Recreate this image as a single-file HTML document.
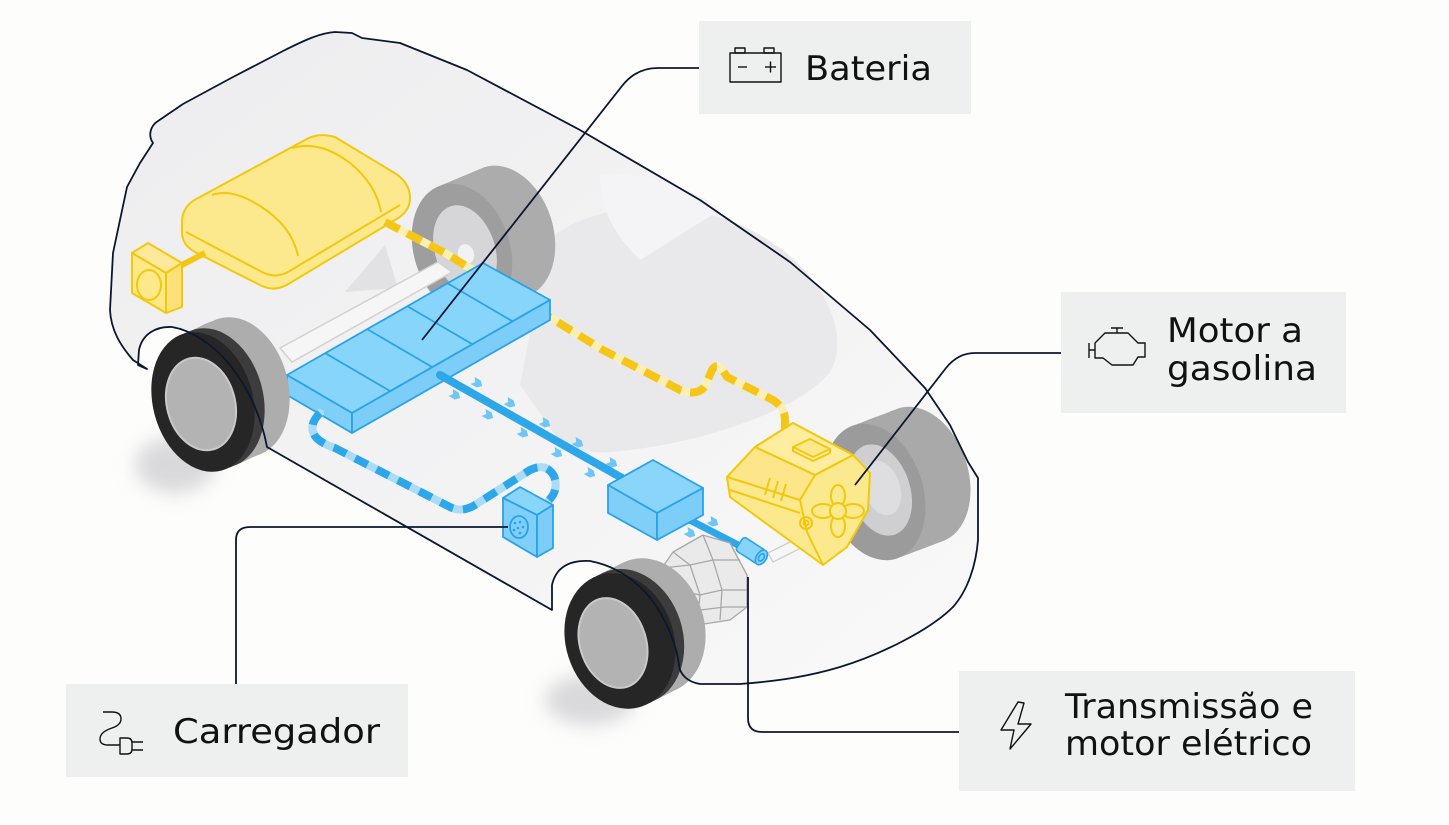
<!DOCTYPE html>
<html><head><meta charset="utf-8"><style>
html,body{margin:0;padding:0;background:#fdfdfc;}
svg{display:block;}
</style></head><body>
<svg width="1449" height="825" viewBox="0 0 1449 825" xmlns="http://www.w3.org/2000/svg">
<defs>
<linearGradient id="bodyg" x1="0" y1="0" x2="1" y2="1">
<stop offset="0" stop-color="#ededef"/><stop offset="0.55" stop-color="#f3f3f4"/><stop offset="1" stop-color="#f9f9f9"/>
</linearGradient>
<filter id="blur" x="-50%" y="-50%" width="200%" height="200%"><feGaussianBlur stdDeviation="9"/></filter>
</defs>
<rect width="1449" height="825" fill="#fdfdfc"/>

<ellipse cx="175" cy="465" rx="40" ry="28" fill="#d9d9db" filter="url(#blur)"/>
<ellipse cx="590" cy="700" rx="45" ry="25" fill="#d9d9db" filter="url(#blur)"/>

<path d="M153,143 C148,136 150,126 158,121 L183,104 L233,77 L283,51 C305,40 320,33 335,32 L352,33 L362,38 L400,43 L467,70 L580,130 L700,200 L790,262 L870,330 L925,388 L950,425 L968,462 L978,478 L978,540 C976,565 968,590 953,607 C930,630 880,655 840,667 C810,676 780,681 740,684 L700,684 C688,682 680,675 679,665 C676,640 660,605 640,587 C625,573 610,565 590,561 C570,560 556,567 552,585 L552,610 L267,447 C262,420 250,390 230,365 C212,343 190,330 172,327 C155,326 142,335 139,350 L138,365 L147,369 L133,360 C120,345 111,330 110,310 L113,253 L127,187 L140,163 Z" fill="url(#bodyg)"/>

<path d="M548,240 C590,205 680,190 760,235 C830,275 850,340 830,372 C800,410 700,445 610,452 C575,455 555,440 545,420 L520,385 Z" fill="#e9e9eb"/>
<path d="M600,175 C640,170 690,185 720,210 L640,260 C620,240 600,215 600,175 Z" fill="#f4f4f6"/>
<polygon points="345,292 385,245 398,288" fill="#e2e2e4"/>

<g fill="#acacac">
<ellipse transform="translate(505,232) rotate(-18)" rx="48" ry="68"/>
<ellipse transform="translate(499.6,234.3) rotate(-18)" rx="48" ry="68"/>
<ellipse transform="translate(494.3,236.5) rotate(-18)" rx="48" ry="68"/>
<ellipse transform="translate(488.9,238.8) rotate(-18)" rx="48" ry="68"/>
<ellipse transform="translate(483.5,241) rotate(-18)" rx="48" ry="68"/>
<ellipse transform="translate(478.1,243.3) rotate(-18)" rx="48" ry="68"/>
<ellipse transform="translate(472.8,245.5) rotate(-18)" rx="48" ry="68"/>
<ellipse transform="translate(467.4,247.8) rotate(-18)" rx="48" ry="68"/>
</g>
<ellipse transform="translate(462,250) rotate(-18)" rx="48" ry="68" fill="#9e9e9e"/>
<ellipse transform="translate(465,250) rotate(-18)" rx="30" ry="46" fill="#d6d6d8"/>
<ellipse transform="translate(466,254) rotate(-18)" rx="8" ry="10" fill="#f2f2f2"/>

<g fill="#a9a9a9">
<ellipse transform="translate(920,475) rotate(-18)" rx="48" ry="70"/>
<ellipse transform="translate(914.4,477.1) rotate(-18)" rx="48" ry="70"/>
<ellipse transform="translate(908.8,479.3) rotate(-18)" rx="48" ry="70"/>
<ellipse transform="translate(903.1,481.4) rotate(-18)" rx="48" ry="70"/>
<ellipse transform="translate(897.5,483.5) rotate(-18)" rx="48" ry="70"/>
<ellipse transform="translate(891.9,485.6) rotate(-18)" rx="48" ry="70"/>
<ellipse transform="translate(886.3,487.8) rotate(-18)" rx="48" ry="70"/>
<ellipse transform="translate(880.6,489.9) rotate(-18)" rx="48" ry="70"/>
</g>
<ellipse transform="translate(875,492) rotate(-18)" rx="48" ry="70" fill="#9b9b9b"/>
<ellipse transform="translate(880,490) rotate(-18)" rx="30" ry="47" fill="#cfcfd1"/>
<ellipse transform="translate(882,488) rotate(-18)" rx="18" ry="28" fill="#dedee0"/>

<polygon points="280,348 438,262 452,272 292,362" fill="#f6f6f6" stroke="#d2d2d2" stroke-width="1.5"/>
<polygon points="768,553 800,537 805,546 773,562" fill="#f6f6f6" stroke="#cfcfcf" stroke-width="1.3"/>

<g stroke="#f2c80f" stroke-width="2" stroke-linejoin="round" fill="#fde98d">
<path d="M182,222 Q182,205 200,197 L305,140 Q318,132 335,137 L393,172 Q410,182 410,198 Q410,212 395,220 L290,283 Q275,293 260,285 L195,252 Q182,245 182,232 Z"/>
<path d="M186,232 L262,272 Q275,279 288,272 L400,205" fill="none"/>
<path d="M212,195 Q232,188 260,206 Q292,226 298,256" fill="none"/>
<path d="M292,148 Q320,140 350,163 Q376,184 381,212" fill="none"/>
</g>
<line x1="180" y1="266" x2="205" y2="253" stroke="#f5c518" stroke-width="6"/>
<g stroke="#f2c80f" stroke-width="2" stroke-linejoin="round">
<polygon points="132,253 148,243 182,263 166,273" fill="#fee99a"/>
<polygon points="132,253 166,273 166,313 132,293" fill="#fde88a"/>
<polygon points="166,273 182,263 182,307 166,313" fill="#fce17a"/>
<ellipse cx="149" cy="285" rx="12" ry="15" fill="none"/>
</g>

<path d="M385,222 L445,253 L603,350 L680,390 Q700,397 706,384 L712,370 Q716,363 722,369 L727,377 L773,400 Q785,408 785,420 L785,442" fill="none" stroke="#fcefb2" stroke-width="8" stroke-linejoin="round"/>
<path d="M385,222 L445,253 L603,350 L680,390 Q700,397 706,384 L712,370 Q716,363 722,369 L727,377 L773,400 Q785,408 785,420 L785,442" fill="none" stroke="#f5c518" stroke-width="8" stroke-dasharray="16 9" stroke-linejoin="round"/>

<g stroke="#29a3e6" stroke-width="1.8" stroke-linejoin="round">
<polygon points="287,375 483,263 550,300 352,413" fill="#88d5fb"/>
<polygon points="287,375 352,413 352,433 287,395" fill="#7fcff8"/>
<polygon points="352,413 550,300 550,320 352,433" fill="#7ccdf7"/>
<line x1="325" y1="353" x2="390" y2="391"/>
<line x1="367" y1="329" x2="432" y2="367"/>
<line x1="407" y1="306" x2="472" y2="344"/>
<line x1="447" y1="283" x2="512" y2="321"/>
</g>

<path d="M320,413 Q308,425 315,436 Q320,443 335,448 L450,507 Q462,513 475,505 L530,470 Q546,462 554,476 Q559,490 549,500" fill="none" stroke="#aadcf7" stroke-width="8" stroke-linecap="round" stroke-linejoin="round"/>
<path d="M320,413 Q308,425 315,436 Q320,443 335,448 L450,507 Q462,513 475,505 L530,470 Q546,462 554,476 Q559,490 549,500" fill="none" stroke="#2ea7ea" stroke-width="8" stroke-dasharray="14 10" stroke-linejoin="round"/>

<line x1="440" y1="375" x2="622" y2="478" stroke="#2ea7ea" stroke-width="8" stroke-linecap="round"/>
<line x1="680" y1="515" x2="742" y2="547" stroke="#2ea7ea" stroke-width="7" stroke-linecap="round"/>
<g fill="#6ec6f6">
<polygon transform="translate(477,383) rotate(29.5)" points="-5,-4 2,-4 6,0 2,4 -5,4 -2,0"/>
<polygon transform="translate(510,403) rotate(29.5)" points="-5,-4 2,-4 6,0 2,4 -5,4 -2,0"/>
<polygon transform="translate(545,423) rotate(29.5)" points="-5,-4 2,-4 6,0 2,4 -5,4 -2,0"/>
<polygon transform="translate(578,443) rotate(29.5)" points="-5,-4 2,-4 6,0 2,4 -5,4 -2,0"/>
<polygon transform="translate(612,463) rotate(29.5)" points="-5,-4 2,-4 6,0 2,4 -5,4 -2,0"/>
<polygon transform="translate(455,395) rotate(29.5)" points="-5,-4 2,-4 6,0 2,4 -5,4 -2,0"/>
<polygon transform="translate(488,415) rotate(29.5)" points="-5,-4 2,-4 6,0 2,4 -5,4 -2,0"/>
<polygon transform="translate(523,433) rotate(29.5)" points="-5,-4 2,-4 6,0 2,4 -5,4 -2,0"/>
<polygon transform="translate(557,453) rotate(29.5)" points="-5,-4 2,-4 6,0 2,4 -5,4 -2,0"/>
<polygon transform="translate(590,473) rotate(29.5)" points="-5,-4 2,-4 6,0 2,4 -5,4 -2,0"/>
<polygon transform="translate(713,522) rotate(29.5)" points="-5,-4 2,-4 6,0 2,4 -5,4 -2,0"/>
<polygon transform="translate(690,533) rotate(29.5)" points="-5,-4 2,-4 6,0 2,4 -5,4 -2,0"/>
</g>

<g stroke="#f2c80f" stroke-width="2" stroke-linejoin="round">
<polygon points="727,477 755,447 793,423 853,455 870,473 868,510 847,547 823,565 730,497" fill="#fde98d"/>
<polygon points="755,447 793,423 853,455 815,475" fill="#feed9f"/>
<polygon points="755,447 815,475 800,500 727,477" fill="#fde68a"/>
<polyline points="815,475 853,455" fill="none"/>
<polyline points="800,500 807,532 823,565" fill="none"/>
<polyline points="730,490 800,513" fill="none"/>
<polygon points="793,447 810,439 830,449 813,457" fill="#fde98d"/>
<polyline points="793,447 793,451 813,461 830,453 830,449" fill="none"/>
<line x1="770" y1="478" x2="765" y2="495" /><line x1="778" y1="481" x2="773" y2="498"/><line x1="786" y1="484" x2="781" y2="501"/>
<circle cx="806" cy="523" r="6" fill="none"/><circle cx="806" cy="523" r="2.5" fill="none"/>
<ellipse cx="838" cy="496" rx="7" ry="11" fill="#fde98d"/>
<ellipse cx="838" cy="526" rx="7" ry="11" fill="#fde98d"/>
<ellipse cx="823" cy="511" rx="11" ry="7" fill="#fde98d"/>
<ellipse cx="853" cy="511" rx="11" ry="7" fill="#fde98d"/>
<circle cx="838" cy="511" r="8" fill="#fde98d"/>
</g>

<g stroke="#a8a8a8" stroke-width="1.3" fill="none" stroke-linejoin="round">
<polygon points="662,568 673,552 703,535 730,543 747,575 747,607 730,620 697,625 677,603" fill="#eaeaea"/>
<polyline points="703,535 713,560 722,590 720,620"/>
<polyline points="673,552 690,565 700,595 697,625"/>
<polyline points="730,543 740,562 747,575"/>
<polyline points="662,568 690,565 713,560 740,560"/>
<polyline points="668,588 700,595 722,590 747,590"/>
<polyline points="677,603 700,610 725,607 747,607"/>
</g>

<g transform="translate(753,552) rotate(33)" stroke="#29a3e6" stroke-width="1.6">
<rect x="-16" y="-8" width="26" height="16" rx="3" fill="#86d4fb"/>
<ellipse cx="10" cy="0" rx="5" ry="8" fill="#86d4fb"/>
<ellipse cx="10" cy="0" rx="2.5" ry="4" fill="none"/>
</g>

<g stroke="#29a3e6" stroke-width="1.8" stroke-linejoin="round">
<polygon points="608,485 653,460 703,488 657,513" fill="#8ad6fb"/>
<polygon points="608,485 657,513 657,540 608,513" fill="#7fcff8"/>
<polygon points="657,513 703,488 703,515 657,540" fill="#7ccdf7"/>
</g>

<g stroke="#29a3e6" stroke-width="1.8" stroke-linejoin="round">
<polygon points="503,498 520,487 553,505 537,515" fill="#8ad6fb"/>
<polygon points="503,498 537,515 537,557 503,537" fill="#7fcff8"/>
<polygon points="537,515 553,505 553,548 537,557" fill="#7ccdf7"/>
<ellipse cx="519" cy="527" rx="9" ry="11" fill="none"/>
</g>
<g fill="#29a3e6"><circle cx="515" cy="523" r="1.3"/><circle cx="520" cy="522" r="1.3"/><circle cx="523" cy="527" r="1.3"/><circle cx="518" cy="528" r="1.3"/><circle cx="514" cy="530" r="1.3"/><circle cx="520" cy="533" r="1.3"/></g>

<g fill="#adadad">
<ellipse transform="translate(238,387) rotate(-15)" rx="50" ry="71"/>
<ellipse transform="translate(233,389) rotate(-15)" rx="50" ry="71"/>
<ellipse transform="translate(228,391) rotate(-15)" rx="50" ry="71"/>
<ellipse transform="translate(223,393.5) rotate(-15)" rx="50" ry="71"/>
<ellipse transform="translate(218,396) rotate(-15)" rx="50" ry="71"/>
</g>
<g fill="#3c3c3c">
<ellipse transform="translate(213,398) rotate(-15)" rx="50" ry="71"/>
<ellipse transform="translate(208,400) rotate(-15)" rx="50" ry="71"/>
</g>
<ellipse transform="translate(203,402) rotate(-15)" rx="50" ry="71" fill="#262626"/>
<ellipse transform="translate(201,404) rotate(-15)" rx="34" ry="47" fill="#b3b3b3" stroke="#c9c9cc" stroke-width="2"/>

<g fill="#adadad">
<ellipse transform="translate(650,626) rotate(-18)" rx="54" ry="69"/>
<ellipse transform="translate(645.7,628) rotate(-18)" rx="54" ry="69"/>
<ellipse transform="translate(641.4,630.3) rotate(-18)" rx="54" ry="69"/>
<ellipse transform="translate(637.1,632.4) rotate(-18)" rx="54" ry="69"/>
<ellipse transform="translate(632.9,634.6) rotate(-18)" rx="54" ry="69"/>
</g>
<g fill="#3c3c3c">
<ellipse transform="translate(628.6,636.7) rotate(-18)" rx="54" ry="69"/>
<ellipse transform="translate(624.3,638.9) rotate(-18)" rx="54" ry="69"/>
</g>
<ellipse transform="translate(620,641) rotate(-18)" rx="54" ry="69" fill="#262626"/>
<ellipse transform="translate(613,643) rotate(-18)" rx="33" ry="46" fill="#b3b3b3" stroke="#c9c9cc" stroke-width="2"/>

<path d="M153,143 C148,136 150,126 158,121 L183,104 L233,77 L283,51 C305,40 320,33 335,32 L352,33 L362,38 L400,43 L467,70 L580,130 L700,200 L790,262 L870,330 L925,388 L950,425 L968,462 L978,478 L978,540 C976,565 968,590 953,607 C930,630 880,655 840,667 C810,676 780,681 740,684 L700,684 C688,682 680,675 679,665 C676,640 660,605 640,587 C625,573 610,565 590,561 C570,560 556,567 552,585 L552,610 L267,447 C262,420 250,390 230,365 C212,343 190,330 172,327 C155,326 142,335 139,350 L138,365 L147,369 L133,360 C120,345 111,330 110,310 L113,253 L127,187 L140,163 Z" fill="none" stroke="#0b1730" stroke-width="1.8" stroke-linejoin="round"/>

<g fill="none" stroke="#0b1730" stroke-width="1.8">
<path d="M699,68 L658,68 Q636,68 622,86 L422,340"/>
<path d="M1061,353 L975,353 Q958,353 946,368 L855,485"/>
<path d="M236,684 L236,540 Q236,527 250,527 L508,527"/>
<path d="M959,732 L762,732 Q748,732 748,718 L748,577"/>
</g>

<rect x="699" y="21" width="272" height="93" fill="#eef0f0"/>
<rect x="1061" y="292" width="285" height="121" fill="#eef0f0"/>
<rect x="66" y="684" width="342" height="93" fill="#eef0f0"/>
<rect x="959" y="671" width="396" height="120" fill="#eef0f0"/>

<g fill="none" stroke="#111" stroke-width="1.4" stroke-linejoin="round">
<rect x="730" y="53" width="51" height="29"/>
<rect x="735" y="48" width="10" height="5"/>
<rect x="764" y="48" width="10" height="5"/>
<line x1="738" y1="67" x2="747" y2="67"/>
<line x1="765" y1="67" x2="776" y2="67"/><line x1="770.5" y1="61.5" x2="770.5" y2="72.5"/>
<path d="M1095,343 L1105,333 L1128,333 L1138,343 L1145,343 L1145,357 L1138,357 L1133,365 L1112,365 L1103,358 L1095,358 Z"/>
<path d="M1089,343 L1089,358 M1089,350 L1095,350 M1117,333 L1117,328 M1111,328 L1123,328"/>
<path d="M103,712 L112,712 Q121,712 121,719 Q121,725 112,728 Q100,732 100,739 Q100,745 108,745 L120,745"/>
<path d="M120,738 L127,738 Q132,738 132,743 L132,749 Q132,754 127,754 L120,754 Z"/>
<path d="M132,742 L143,742 M132,750 L143,750"/>
<path d="M1018,702 L1001,730 L1014,730 L1010,749 L1031,724 L1018,724 L1024,703 Z"/>
</g>

<g font-family="'DejaVu Sans', 'Liberation Sans', sans-serif" font-size="34" fill="#111">
<text x="805" y="80" textLength="127" lengthAdjust="spacingAndGlyphs">Bateria</text>
<text x="1167" y="342" textLength="136" lengthAdjust="spacingAndGlyphs">Motor a</text>
<text x="1167" y="380" textLength="150" lengthAdjust="spacingAndGlyphs">gasolina</text>
<text x="173" y="743" textLength="207" lengthAdjust="spacingAndGlyphs">Carregador</text>
<text x="1065" y="718" textLength="248" lengthAdjust="spacingAndGlyphs">Transmissão e</text>
<text x="1065" y="755" textLength="247" lengthAdjust="spacingAndGlyphs">motor elétrico</text>
</g>
</svg>
</body></html>
